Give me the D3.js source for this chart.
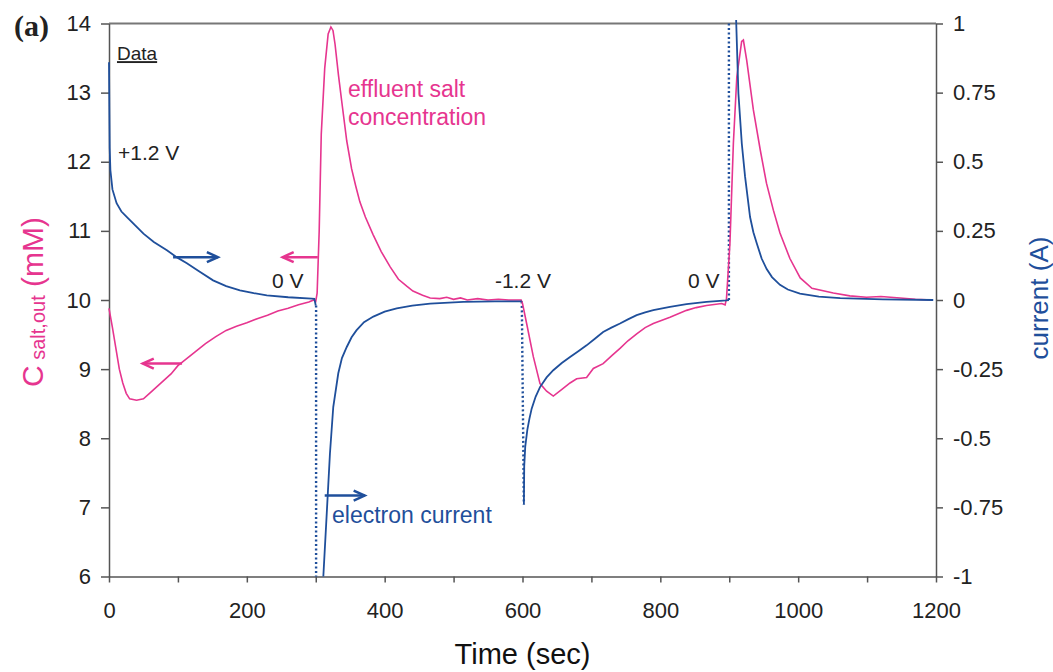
<!DOCTYPE html>
<html>
<head>
<meta charset="utf-8">
<script src="https://cdn.jsdelivr.net/npm/d3@7"></script>
<style>
  body { margin: 0; background: #fff; }
  svg { font-family: "Liberation Sans", Arial, Helvetica, sans-serif; }
  .axis path, .axis line { stroke: #555; stroke-width: 1.5; }
  .axis text { fill: #222; font-size: 22px; font-family: "Liberation Sans", Arial, sans-serif; }
</style>
</head>
<body>
<svg id="chart" width="1053" height="672"></svg>
<script>
// effluent salt concentration (mM) vs time (s)
const saltData = [
  [0, 9.88], [5, 9.6], [10, 9.3], [15, 9.0], [20, 8.8], [25, 8.65], [30, 8.57], [40, 8.55],
  [50, 8.57], [60, 8.66], [70, 8.75], [80, 8.84], [90, 8.93], [100, 9.05], [110, 9.13],
  [125, 9.25], [140, 9.37], [155, 9.47], [170, 9.56], [185, 9.62], [200, 9.67], [215, 9.73],
  [230, 9.78], [245, 9.84], [260, 9.88], [275, 9.93], [290, 9.97], [297, 10.0], [300, 9.98],
  [302, 10.1], [305, 11.0], [308, 12.4], [313, 13.35], [318, 13.85], [322, 13.95], [325, 13.9],
  [328, 13.7], [333, 13.25], [338, 12.85], [345, 12.3], [352, 11.9], [358, 11.65], [364, 11.42],
  [372, 11.2], [383, 10.95], [395, 10.7], [408, 10.48], [420, 10.3], [432, 10.2], [441, 10.13],
  [455, 10.07], [466, 10.03], [480, 10.02], [490, 10.04], [500, 10.01], [510, 10.03], [520, 10.0],
  [535, 10.02], [550, 10.0], [565, 10.01], [580, 10.0], [598, 10.0], [600, 9.95], [606, 9.66],
  [615.7, 9.18], [625.4, 8.79], [635, 8.68], [644.7, 8.61], [659, 8.72], [669, 8.8], [678.6, 8.86],
  [693, 8.88], [702.8, 9.01], [717, 9.08], [730, 9.2], [741.5, 9.3], [753, 9.41], [765.7, 9.51],
  [778, 9.6], [789.8, 9.66], [814, 9.75], [838, 9.85], [852, 9.89], [867, 9.92], [889, 9.95],
  [894, 9.93], [896, 10.02], [901, 10.82], [906, 12.27], [911, 13.23], [918, 13.74], [920.5, 13.76],
  [925.3, 13.47], [935, 12.75], [945, 12.17], [954, 11.69], [964, 11.3], [973.6, 10.97],
  [988, 10.6], [1003, 10.32], [1020, 10.17], [1051, 10.1], [1075, 10.06], [1099, 10.04],
  [1120, 10.05], [1148, 10.03], [1170, 10.01], [1195, 10.0]
];

// electron current (A), solid segments
const currentSegments = [
  [[0, 0.86], [0.5, 0.7], [1, 0.55], [2, 0.47], [5, 0.4], [11, 0.35], [18, 0.32], [26, 0.3],
   [38, 0.27], [50, 0.24], [65, 0.21], [84, 0.18], [98, 0.155], [113, 0.133], [130, 0.105],
   [151, 0.071], [170, 0.05], [190, 0.035], [210, 0.025], [229, 0.017], [260, 0.01], [294, 0.005],
   [298, 0.004], [300, -0.02]],
  [[311, -1.0], [316, -0.77], [320.6, -0.555], [325.4, -0.387], [332.7, -0.265], [338, -0.21],
   [345, -0.17], [352, -0.135], [359, -0.11], [370, -0.08], [383.6, -0.06], [400, -0.042],
   [417.5, -0.03], [440, -0.02], [466, -0.013], [514, -0.007], [560, -0.005], [599, -0.005]],
  [[602, -0.74], [602.5, -0.6], [604, -0.53], [607, -0.47], [610, -0.43], [613.3, -0.393],
   [619, -0.35], [625.4, -0.315], [635, -0.28], [644.7, -0.254], [657, -0.228], [669, -0.206],
   [681, -0.185], [693, -0.164], [705, -0.14], [717, -0.116], [729, -0.1], [741.5, -0.085],
   [753, -0.07], [765.7, -0.055], [778, -0.045], [789.8, -0.037], [814, -0.025], [838, -0.015],
   [867, -0.007], [896, -0.001], [899.5, 0.0]],
  [[910, 1.013], [913.3, 0.747], [918.2, 0.566], [923, 0.445], [930.2, 0.3], [935, 0.245],
   [940, 0.204], [947, 0.15], [954.3, 0.112], [962, 0.083], [973.6, 0.055], [985, 0.038],
   [1002.6, 0.023], [1030, 0.012], [1061, 0.007], [1123, 0.002], [1196, 0.0]]
];

// dotted jumps of the current when the voltage is switched
const currentJumps = [
  [[300.5, -0.02], [300.5, -1.0]],
  [[599, -0.005], [602, -0.74]],
  [[899.5, 0.0], [899.5, 1.0]]
];

const timeTicks = d3.range(0, 1201, 100);
const saltTicks = [6, 7, 8, 9, 10, 11, 12, 13, 14];
const currentTicks = [-1, -0.75, -0.5, -0.25, 0, 0.25, 0.5, 0.75, 1];

// annotation text (time, salt-axis value)
const voltLabels = [
  { text: "Data", t: 11.6, c: 13.47, underline: true },
  { text: "+1.2 V", t: 13, c: 12.02 },
  { text: "0 V", t: 236.5, c: 10.18 },
  { text: "-1.2 V", t: 560, c: 10.18 },
  { text: "0 V", t: 840, c: 10.18 }
];
const arrows = [
  { from: [93, 10.62], to: [158, 10.62], series: "current" },
  { from: [303, 10.62], to: [252, 10.62], series: "salt" },
  { from: [106, 9.08], to: [49, 9.08], series: "salt" },
  { from: [313, 7.17], to: [371, 7.17], series: "current" }
];

const pink = "#e6358f";
const blue = "#1f4f9b";

const svg = d3.select("svg#chart");
const plotLeft = 109, plotRight = 936, plotTop = 23.5, plotBottom = 576.5;

const x = d3.scaleLinear().domain([0, 1200]).range([plotLeft, plotRight]);
const yL = d3.scaleLinear().domain([6, 14]).range([plotBottom, plotTop]);
const yR = d3.scaleLinear().domain([-1, 1]).range([plotBottom, plotTop]);

// frame top line
svg.append("line")
  .attr("x1", plotLeft).attr("x2", plotRight)
  .attr("y1", plotTop).attr("y2", plotTop)
  .attr("stroke", "#777").attr("stroke-width", 2);

svg.append("g")
  .attr("class", "axis")
  .attr("transform", `translate(0,${plotBottom})`)
  .call(d3.axisBottom(x).tickValues(timeTicks)
    .tickFormat(d => (d % 200 === 0 ? d : ""))
    .tickSize(6).tickSizeOuter(0).tickPadding(20));

svg.append("g")
  .attr("class", "axis")
  .attr("transform", `translate(${plotLeft},0)`)
  .call(d3.axisLeft(yL).tickValues(saltTicks).tickSize(8).tickSizeOuter(0).tickPadding(10));

svg.append("g")
  .attr("class", "axis")
  .attr("transform", `translate(${plotRight},0)`)
  .call(d3.axisRight(yR).tickValues(currentTicks).tickFormat(d => String(d))
    .tickSize(7).tickSizeOuter(0).tickPadding(10));

svg.selectAll(".axis .domain").attr("stroke", "#555").attr("stroke-width", 2);

// lines
const saltLine = d3.line().x(d => x(d[0])).y(d => yL(d[1]));
const currentLine = d3.line().x(d => x(d[0])).y(d => yR(d[1]));

svg.append("g").selectAll("path.jump")
  .data(currentJumps)
  .join("path")
  .attr("class", "jump")
  .attr("d", currentLine)
  .attr("fill", "none")
  .attr("stroke", blue)
  .attr("stroke-width", 2.4)
  .attr("stroke-dasharray", "2,2.5");

svg.append("path")
  .datum(saltData)
  .attr("d", saltLine)
  .attr("fill", "none")
  .attr("stroke", pink)
  .attr("stroke-width", 1.6);

svg.append("g").selectAll("path.current")
  .data(currentSegments)
  .join("path")
  .attr("class", "current")
  .attr("d", currentLine)
  .attr("fill", "none")
  .attr("stroke", blue)
  .attr("stroke-width", 1.8);

// arrows
arrows.forEach(a => {
  const col = a.series === "salt" ? pink : blue;
  const x1 = x(a.from[0]), y1 = yL(a.from[1]);
  const x2 = x(a.to[0]), y2 = yL(a.to[1]);
  const dir = Math.sign(x2 - x1);
  svg.append("line")
    .attr("x1", x1).attr("y1", y1).attr("x2", x2).attr("y2", y2)
    .attr("stroke", col).attr("stroke-width", 2.5);
  svg.append("path")
    .attr("d", `M${x2 - dir * 11},${y2 - 5} L${x2},${y2} L${x2 - dir * 11},${y2 + 5}`)
    .attr("fill", "none").attr("stroke", col).attr("stroke-width", 2.5)
    .attr("stroke-linejoin", "miter");
});

// voltage labels
voltLabels.forEach(l => {
  svg.append("text")
    .attr("x", x(l.t)).attr("y", yL(l.c))
    .attr("font-size", l.underline ? 19 : 21)
    .attr("fill", "#222")
    .attr("text-decoration", l.underline ? "underline" : null)
    .text(l.text);
});

// series labels
const eff = svg.append("text")
  .attr("x", x(346.8)).attr("y", yL(12.94))
  .attr("font-size", 23).attr("fill", pink);
eff.append("tspan").text("effluent salt");
eff.append("tspan").attr("x", x(346.8)).attr("dy", 28).text("concentration");

svg.append("text")
  .attr("x", x(323.6)).attr("y", yL(6.77))
  .attr("font-size", 23).attr("fill", blue)
  .text("electron current");

// panel label
svg.append("text")
  .attr("x", 14).attr("y", 36)
  .attr("font-family", "Liberation Serif, Times New Roman, serif")
  .attr("font-weight", "bold").attr("font-size", 30)
  .attr("fill", "#222")
  .text("(a)");

// axis titles
svg.append("text")
  .attr("x", (plotLeft + plotRight) / 2).attr("y", 664)
  .attr("text-anchor", "middle")
  .attr("font-size", 29).attr("fill", "#111")
  .text("Time (sec)");

const yTitle = svg.append("text")
  .attr("transform", "translate(43,302) rotate(-90)")
  .attr("text-anchor", "middle")
  .attr("fill", pink);
yTitle.append("tspan").attr("font-size", 30).text("C");
yTitle.append("tspan").attr("font-size", 20).attr("dy", 2).text(" salt,out");
yTitle.append("tspan").attr("font-size", 30).attr("dy", -2).text(" (mM)");

svg.append("text")
  .attr("transform", "translate(1048,298) rotate(-90)")
  .attr("text-anchor", "middle")
  .attr("font-size", 26).attr("fill", blue)
  .text("current (A)");
</script>
</body>
</html>
